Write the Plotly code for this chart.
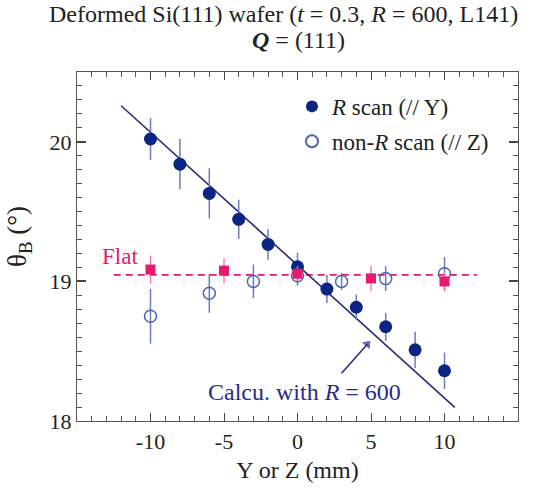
import plotly.graph_objects as go

# R scan (// Y)
r_x = [-10, -8, -6, -4, -2, 0, 2, 4, 6, 8, 10]
r_y = [20.02, 19.84, 19.63, 19.445, 19.265, 19.105, 18.945, 18.815, 18.675, 18.51, 18.36]
r_err = [0.15, 0.18, 0.18, 0.14, 0.11, 0.10, 0.10, 0.09, 0.10, 0.13, 0.13]

# non-R scan (// Z)
n_x = [-10, -6, -3, 0, 3, 6, 10]
n_y = [18.75, 18.915, 19.0, 19.04, 19.0, 19.02, 19.055]
n_err = [0.195, 0.14, 0.12, 0.07, 0.06, 0.09, 0.12]

# Flat
f_x = [-10, -5, 0, 5, 10]
f_y = [19.085, 19.077, 19.055, 19.022, 19.0]
f_err = [0.1, 0.09, 0.05, 0.09, 0.07]
flat_line_x = [-12.5, 12.2]
flat_line_y = [19.047, 19.047]

# Calculation with R = 600
calc_x = [-12.0, 10.7]
calc_y = [20.258, 18.098]

# pointer arrow (tail -> head), data units
arrow_x = [3.0, 4.75]
arrow_y = [18.342, 18.55]

FONT = "Liberation Serif, Times New Roman, serif"
NAVY = "#0c2585"
LINE = "#2d2a7e"
ERRB = "#6b7bc2"
PINK = "#e8196e"
TXT = "#222"
ANN = "#2a2a88"

fig = go.Figure()

fig.add_trace(go.Scatter(x=flat_line_x, y=flat_line_y, mode="lines",
                         line=dict(color=PINK, width=1.6, dash="7px,5px"),
                         showlegend=False, hoverinfo="skip"))
fig.add_trace(go.Scatter(x=calc_x, y=calc_y, mode="lines",
                         line=dict(color=LINE, width=1.6),
                         showlegend=False, hoverinfo="skip"))
fig.add_trace(go.Scatter(x=arrow_x, y=arrow_y, mode="lines+markers",
                         line=dict(color=ANN, width=1.6),
                         marker=dict(symbol=["circle", "triangle-up"], size=[0, 9], color=ANN,
                                     angleref="previous", line=dict(width=0)),
                         showlegend=False, hoverinfo="skip"))

fig.add_trace(go.Scatter(x=r_x, y=r_y, mode="markers", name="<i>R</i> scan (// Y)",
                         legendgroup="a",
                         marker=dict(symbol="circle", size=13, color=NAVY),
                         error_y=dict(type="data", array=r_err, color=ERRB, thickness=1.5, width=0)))
fig.add_trace(go.Scatter(x=n_x, y=n_y, mode="markers", name="non-<i>R</i> scan (// Z)",
                         legendgroup="b",
                         marker=dict(symbol="circle-open", size=12, color="#4f64b0",
                                     line=dict(width=1.5)),
                         error_y=dict(type="data", array=n_err, color=ERRB, thickness=1.5, width=0)))
fig.add_trace(go.Scatter(x=f_x, y=f_y, mode="markers", showlegend=False,
                         marker=dict(symbol="square", size=10, color=PINK),
                         error_y=dict(type="data", array=f_err, color="#f06a9a", thickness=1.2, width=0)))

L, R, T, B = 77, 16, 72, 67
PW, PH = 534 - L - R, 490 - T - B


def px(xp):
    return (xp - L) / PW


def py(yp):
    return (490 - B - yp) / PH


fig.update_layout(
    width=534, height=490,
    margin=dict(l=L, r=R, t=T, b=B),
    paper_bgcolor="white", plot_bgcolor="white",
    font=dict(family=FONT, size=22, color=TXT),
    showlegend=True,
    legend=dict(x=px(292), y=py(85), xanchor="left", yanchor="top", bgcolor="rgba(0,0,0,0)",
                font=dict(family=FONT, size=23, color=TXT), tracegroupgap=2,
                itemsizing="constant"),
    xaxis=dict(range=[-15, 15], tickvals=[-10, -5, 0, 5, 10], ticktext=["-10", "-5", "0", "5", "10"],
               ticks="inside", ticklen=8, tickwidth=1.2, tickcolor="#444",
               minor=dict(dtick=1, ticklen=5, tickwidth=1, tickcolor="#555", ticks="inside"),
               showline=True, linecolor="#555", linewidth=1.2, mirror="allticks",
               showgrid=False, zeroline=False, tickfont=dict(size=22),
               title=dict(text="Y or Z (mm)", standoff=8, font=dict(size=24))),
    yaxis=dict(range=[18, 20.5], tickvals=[18, 19, 20],
               ticks="inside", ticklen=9, tickwidth=1.6, tickcolor="#444",
               minor=dict(dtick=0.1, ticklen=5, tickwidth=1, tickcolor="#555", ticks="inside"),
               showline=True, linecolor="#555", linewidth=1.2, mirror="allticks",
               showgrid=False, zeroline=False, tickfont=dict(size=22)),
)

fig.add_annotation(text="θ<sub>B</sub> (°)", x=px(19), y=py(238), xref="paper", yref="paper",
                   showarrow=False, textangle=-90, xanchor="center", yanchor="middle",
                   font=dict(size=27, color=TXT))
fig.add_annotation(text="Deformed Si(111) wafer (<i>t</i> = 0.3, <i>R</i> = 600, L141)",
                   x=px(283), y=py(14), xref="paper", yref="paper", showarrow=False,
                   xanchor="center", yanchor="middle", font=dict(size=24, color=TXT))
fig.add_annotation(text="<b><i>Q</i></b> = (111)",
                   x=px(298), y=py(40), xref="paper", yref="paper", showarrow=False,
                   xanchor="center", yanchor="middle", font=dict(size=24, color=TXT))
fig.add_annotation(text="Flat", x=-12.1, y=19.18, xref="x", yref="y", showarrow=False,
                   xanchor="center", yanchor="middle", font=dict(size=23, color=PINK))
fig.add_annotation(text="Calcu. with <i>R</i> = 600", x=0.48, y=18.211, xref="x", yref="y",
                   xanchor="center", yanchor="middle",
                   showarrow=False, font=dict(size=24, color=ANN))

fig.write_html("out.html")
